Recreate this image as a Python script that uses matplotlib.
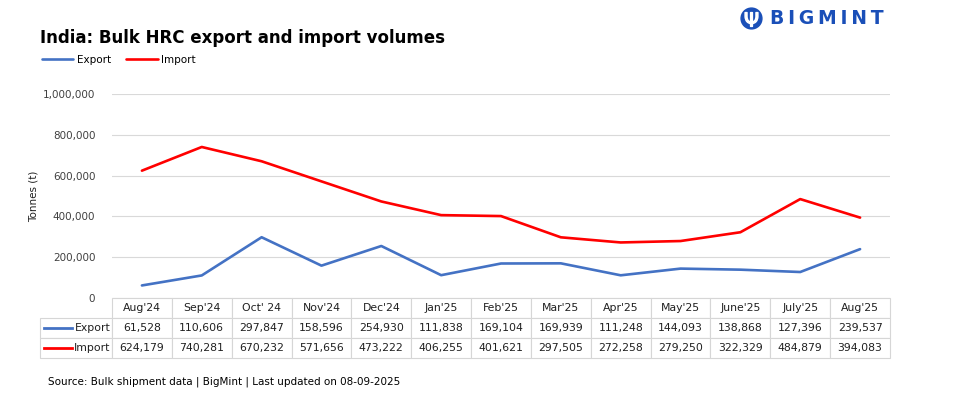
import matplotlib.pyplot as plt
from matplotlib.lines import Line2D

months = ["Aug'24", "Sep'24", "Oct' 24", "Nov'24", "Dec'24", "Jan'25", "Feb'25",
          "Mar'25", "Apr'25", "May'25", "June'25", "July'25", "Aug'25"]
export = [61528, 110606, 297847, 158596, 254930, 111838, 169104,
          169939, 111248, 144093, 138868, 127396, 239537]
imports = [624179, 740281, 670232, 571656, 473222, 406255, 401621,
           297505, 272258, 279250, 322329, 484879, 394083]
yticks = [0, 200000, 400000, 600000, 800000, 1000000]

blue = '#4472C4'
red = '#FF0000'
W, H = 960, 411

fig = plt.figure(figsize=(W / 100, H / 100), dpi=100)
# axes spans the category columns of the table (px coords converted)
ax = fig.add_axes([112 / W, (H - 298) / H, 778 / W, 204 / H])

x = list(range(len(months)))
ax.plot(x, export, color=blue, lw=1.9, solid_capstyle='round', label='Export')
ax.plot(x, imports, color=red, lw=1.9, solid_capstyle='round', label='Import')

ax.set_xlim(-0.5, len(months) - 0.5)
ax.set_ylim(0, 1000000)
ax.set_yticks(yticks)
ax.set_yticklabels([f'{v:,}' for v in yticks], fontsize=7.5, color='#404040')
ax.set_xticks([])
ax.tick_params(axis='y', length=0, pad=12)
ax.grid(axis='y', color='#d9d9d9', lw=0.8)
ax.set_axisbelow(True)
for s in ax.spines.values():
    s.set_visible(False)
ax.set_ylabel('Tonnes (t)', fontsize=7.5, color='#202020', labelpad=3)

# data table under the plot
cell_text = [[''] + months,
             ['Export'] + [f'{v:,}' for v in export],
             ['Import'] + [f'{v:,}' for v in imports]]
col_w = [72] + [778 / len(months)] * len(months)
tot = sum(col_w)
tbl = ax.table(cellText=cell_text, colWidths=[c / tot for c in col_w],
               cellLoc='center', bbox=[-72 / 778, -60 / 204, tot / 778, 60 / 204])
tbl.auto_set_font_size(False)
tbl.set_fontsize(7.8)
for (r, c), cell in tbl.get_celld().items():
    cell.set_edgecolor('#d6d6d6')
    cell.set_linewidth(0.8)
    cell.get_text().set_color('#202020')
    if c == 0:
        cell.get_text().set_ha('right')
        cell.PAD = 0.02
        if r == 0:
            cell.set_edgecolor('white')
            cell.set_linewidth(0)
# legend keys inside row label cells
for yy, col in [(328, blue), (348, red)]:
    fig.add_artist(Line2D([44 / W, 72 / W], [(H - yy) / H] * 2, color=col, lw=2.0))

fig.text(40 / W, (H - 38) / H, 'India: Bulk HRC export and import volumes',
         fontsize=12, fontweight='bold', va='center', color='black')
fig.legend(handles=ax.get_lines(), loc='center left', bbox_to_anchor=(38 / W, (H - 60) / H),
           ncol=2, frameon=False, fontsize=7.5, handlelength=3.0, columnspacing=1.5,
           handletextpad=0.3, borderaxespad=0)
fig.text(48 / W, (H - 382) / H,
         'Source: Bulk shipment data | BigMint | Last updated on 08-09-2025',
         fontsize=7.5, va='center', color='black')

# logo
logo_blue = '#1a4fb8'
fig.text(770 / W, (H - 19) / H, '\u2009'.join('BIGMINT'), fontsize=13.5, fontweight='heavy',
         color=logo_blue, va='center', ha='left')
fig.add_artist(Line2D([751 / W], [(H - 18) / H], marker='o', markersize=15,
                      color=logo_blue, lw=0))
fig.add_artist(Line2D([751 / W], [(H - 19) / H], marker='$\\Psi$', markersize=10,
                      color='white', lw=0))

fig.savefig('out.png', dpi=100)
